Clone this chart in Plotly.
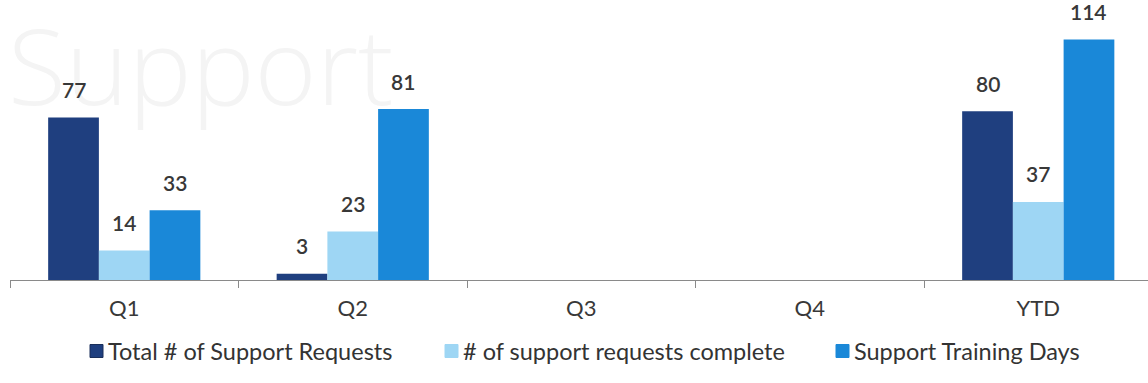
import plotly.graph_objects as go

categories = ["Q1", "Q2", "Q3", "Q4", "YTD"]
series_names = ["Total # of Support Requests", "# of support requests complete", "Support Training Days"]
total_requests = [77, 3, None, None, 80]
requests_complete = [14, 23, None, None, 37]
training_days = [33, 81, None, None, 114]
colors = ["#1f3f7f", "#9ed6f4", "#1a88d8"]

series = [total_requests, requests_complete, training_days]

W, H = 1148, 383
ML, MB = 10, 103
PW, PH = W - ML, H - MB
bar_w = 0.222
offsets = [-1.5 * bar_w, -0.5 * bar_w, 0.5 * bar_w]
legend_px = [90, 445, 836]   # left edge of each legend swatch (layout)
legend_py = 351              # vertical centre of legend row (layout)
sw = 13                      # swatch size, px


def px_x(px):
    return (px - ML) / PW


def px_y(py):
    return (PH - py) / PH


fig = go.Figure()

# faint watermark title (drawn first so labels sit on top)
fig.add_annotation(x=-4 / PW, y=1.035, xref="paper", yref="paper", xanchor="left", yanchor="top",
                   text="Support", showarrow=False,
                   font=dict(family="Open Sans", size=106, color="#f4f4f4", weight=300))

for name, vals, col, off in zip(series_names, series, colors, offsets):
    fig.add_trace(go.Bar(
        x=categories, y=vals, name=name, showlegend=False,
        marker=dict(color=col, line=dict(color=col, width=0)),
        width=bar_w, offset=off,
    ))
    for i, v in enumerate(vals):
        if v is not None:
            fig.add_annotation(x=i + off + bar_w / 2, y=v, xref="x", yref="y",
                               text=str(v), showarrow=False, yshift=28,
                               font=dict(family="Lato", size=21, color="#383838", weight=600))

# legend row
for name, col, lx in zip(series_names, colors, legend_px):
    fig.add_shape(type="rect", xref="paper", yref="paper",
                  x0=px_x(lx), x1=px_x(lx + sw),
                  y0=px_y(legend_py + sw / 2), y1=px_y(legend_py - sw / 2),
                  fillcolor=col, line=dict(color="#1a2f5a" if col == colors[0] else col, width=1))
    fig.add_annotation(x=px_x(lx + sw + 3), y=px_y(legend_py), xref="paper", yref="paper",
                       xanchor="left", yanchor="middle", text=name, showarrow=False,
                       font=dict(family="Lato", size=23.5, color="#333333"))

fig.update_layout(
    width=W, height=H,
    margin=dict(l=ML, r=0, t=0, b=MB),
    paper_bgcolor="white", plot_bgcolor="white",
    barmode="overlay",
    showlegend=False,
    xaxis=dict(type="category", range=[-0.5, -0.5 + PW / 228.5],
               showline=True, linecolor="#8a8a8a", linewidth=1,
               ticks="outside", tickson="boundaries", ticklen=7, tickcolor="#8a8a8a",
               showgrid=False, zeroline=False,
               tickfont=dict(family="Lato", size=22, color="#383838"),
               ticklabelstandoff=9),
    yaxis=dict(range=[0, PH / 2.11], visible=False, showgrid=False, zeroline=False),
)

fig.write_html("out.html")
